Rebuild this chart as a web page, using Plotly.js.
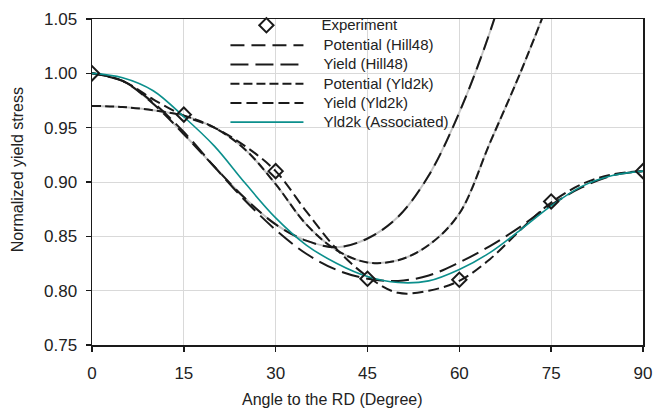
<!DOCTYPE html>
<html>
<head>
<meta charset="utf-8">
<script src="https://cdn.plot.ly/plotly-3.0.1.min.js"></script>
<style>
  html, body { margin: 0; padding: 0; background: #fff; }
  #chart { width: 654px; height: 414px; }
</style>
</head>
<body>
<div id="chart"></div>
<script>
// ---- data ----
const angles = [0, 5, 10, 15, 20, 25, 30, 35, 40, 45, 50, 55, 60, 65, 70, 75, 80, 85, 90];

const expAngles = [0, 15, 30, 45, 60, 75, 90];
const expStress = [1.000, 0.962, 0.910, 0.811, 0.810, 0.882, 0.910];

const potHill48Angles = [0, 5, 10, 15, 20, 25, 30, 35, 40, 45, 50, 55, 60, 65, 70];
const potHill48 = [1.000, 0.993, 0.972, 0.944, 0.914, 0.885, 0.861, 0.846, 0.840, 0.848, 0.868, 0.906, 0.964, 1.038, 1.130];

const yieldHill48 = [1.000, 0.993, 0.973, 0.946, 0.914, 0.883, 0.856, 0.834, 0.819, 0.811, 0.809, 0.814, 0.826, 0.841, 0.859, 0.879, 0.895, 0.906, 0.910];

const potYld2kAngles = [0, 5, 10, 15, 20, 25, 30, 35, 40, 45, 50, 55, 60, 65, 70, 75];
const potYld2k = [0.970, 0.969, 0.966, 0.961, 0.950, 0.930, 0.898, 0.861, 0.837, 0.826, 0.828, 0.842, 0.871, 0.936, 1.001, 1.072];

const yieldYld2k = [1.000, 0.993, 0.976, 0.961, 0.950, 0.933, 0.910, 0.873, 0.838, 0.813, 0.798, 0.800, 0.809, 0.829, 0.856, 0.881, 0.898, 0.907, 0.910];

const assocYld2k = [1.000, 0.996, 0.984, 0.960, 0.933, 0.899, 0.867, 0.842, 0.825, 0.813, 0.8075, 0.809, 0.8195, 0.835, 0.856, 0.878, 0.896, 0.906, 0.910];

const seriesNames = ["Experiment", "Potential (Hill48)", "Yield (Hill48)", "Potential (Yld2k)", "Yield (Yld2k)", "Yld2k (Associated)"];

const xTicks = [0, 15, 30, 45, 60, 75, 90];
const yTicks = [0.75, 0.80, 0.85, 0.90, 0.95, 1.00, 1.05];

const xTitle = "Angle to the RD (Degree)";
const yTitle = "Normalized yield stress";

// ---- styles ----
const GRAY = "#c4c4c4";
const BLACK = "#1a1a1a";
const TEAL = "#0b8f8c";
const PAD = "\u2002\u2002";

function legendName(s) {
  return '<span style="font-size:15px">' + PAD + s + '</span>';
}

function curve(x, y, opts) {
  return Object.assign({
    x: x, y: y, type: "scatter", mode: "lines",
    hoverinfo: "skip"
  }, opts);
}

function ln(color, width, dash) {
  const o = { shape: "spline", smoothing: 1, color: color, width: width };
  if (dash) o.dash = dash;
  return o;
}

const traces = [
  // gray underlays of the potential curves
  curve(potHill48Angles, potHill48, { showlegend: false, line: ln(GRAY, 2) }),
  curve(potYld2kAngles, potYld2k, { showlegend: false, line: ln(GRAY, 2) }),
  curve(potHill48Angles, potHill48, { name: legendName(seriesNames[1]), legendrank: 2, line: ln(BLACK, 2, "14px,7px") }),
  curve(angles, yieldHill48, { name: legendName(seriesNames[2]), legendrank: 3, line: ln(BLACK, 2, "18px,7px") }),
  curve(potYld2kAngles, potYld2k, { name: legendName(seriesNames[3]), legendrank: 4, line: ln(BLACK, 2, "9px,4px") }),
  curve(angles, yieldYld2k, { name: legendName(seriesNames[4]), legendrank: 5, line: ln(BLACK, 2, "11px,5px") }),
  curve(angles, assocYld2k, { name: legendName(seriesNames[5]), legendrank: 6, line: ln(TEAL, 1.6) }),
  {
    x: expAngles, y: expStress, type: "scatter", mode: "markers",
    name: '<span style="font-size:15px">' + seriesNames[0] + '</span>', legend: "legend2", hoverinfo: "skip",
    marker: { symbol: "diamond-open", size: 11, color: BLACK, line: { width: 2, color: BLACK } }
  }
];

const layout = {
  width: 654, height: 414,
  margin: { l: 92, r: 11, t: 15, b: 69 },
  paper_bgcolor: "#fff", plot_bgcolor: "#fff",
  font: { family: "Liberation Sans, Arial, sans-serif", size: 16, color: "#222" },
  showlegend: true,
  legend: {
    x: 0.2422, y: 0.9647, xanchor: "left", yanchor: "top",
    bgcolor: "rgba(0,0,0,0)", borderwidth: 0,
    font: { size: 12.5, color: "#222" },
    itemwidth: 73, tracegroupgap: 0,
    traceorder: "normal"
  },
  legend2: {
    x: 0.2167, y: 1.026, xanchor: "left", yanchor: "top",
    bgcolor: "rgba(0,0,0,0)", borderwidth: 0,
    font: { size: 12.7, color: "#222" },
    itemwidth: 100
  },
  xaxis: {
    range: [0, 90], tickvals: xTicks, ticktext: xTicks.map(String),
    tickfont: { size: 17 },
    showgrid: true, gridcolor: "#d9d9d9", gridwidth: 1,
    showline: true, linecolor: BLACK, linewidth: 1.5, mirror: true,
    ticks: "outside", ticklen: 5, tickcolor: BLACK, tickwidth: 1.5,
    ticklabelstandoff: 7,
    zeroline: false
  },
  yaxis: {
    range: [0.75, 1.05], tickvals: yTicks, ticktext: yTicks.map(v => v.toFixed(2)),
    tickfont: { size: 17 },
    showgrid: true, gridcolor: "#d9d9d9", gridwidth: 1,
    showline: true, linecolor: BLACK, linewidth: 1.5, mirror: true,
    ticks: "outside", ticklen: 5, tickcolor: BLACK, tickwidth: 1.5,
    ticklabelstandoff: 5,
    zeroline: false
  },
  annotations: [
    { text: xTitle, xref: "paper", yref: "paper", x: 0.4368, y: -0.1667,
      xanchor: "center", yanchor: "middle", showarrow: false, font: { size: 16 } },
    { text: yTitle, xref: "paper", yref: "paper", x: -0.1348, y: 0.5379, textangle: -90,
      xanchor: "center", yanchor: "middle", showarrow: false, font: { size: 16 } }
  ]
};

Plotly.newPlot("chart", traces, layout, { staticPlot: true, displayModeBar: false });
</script>
</body>
</html>
